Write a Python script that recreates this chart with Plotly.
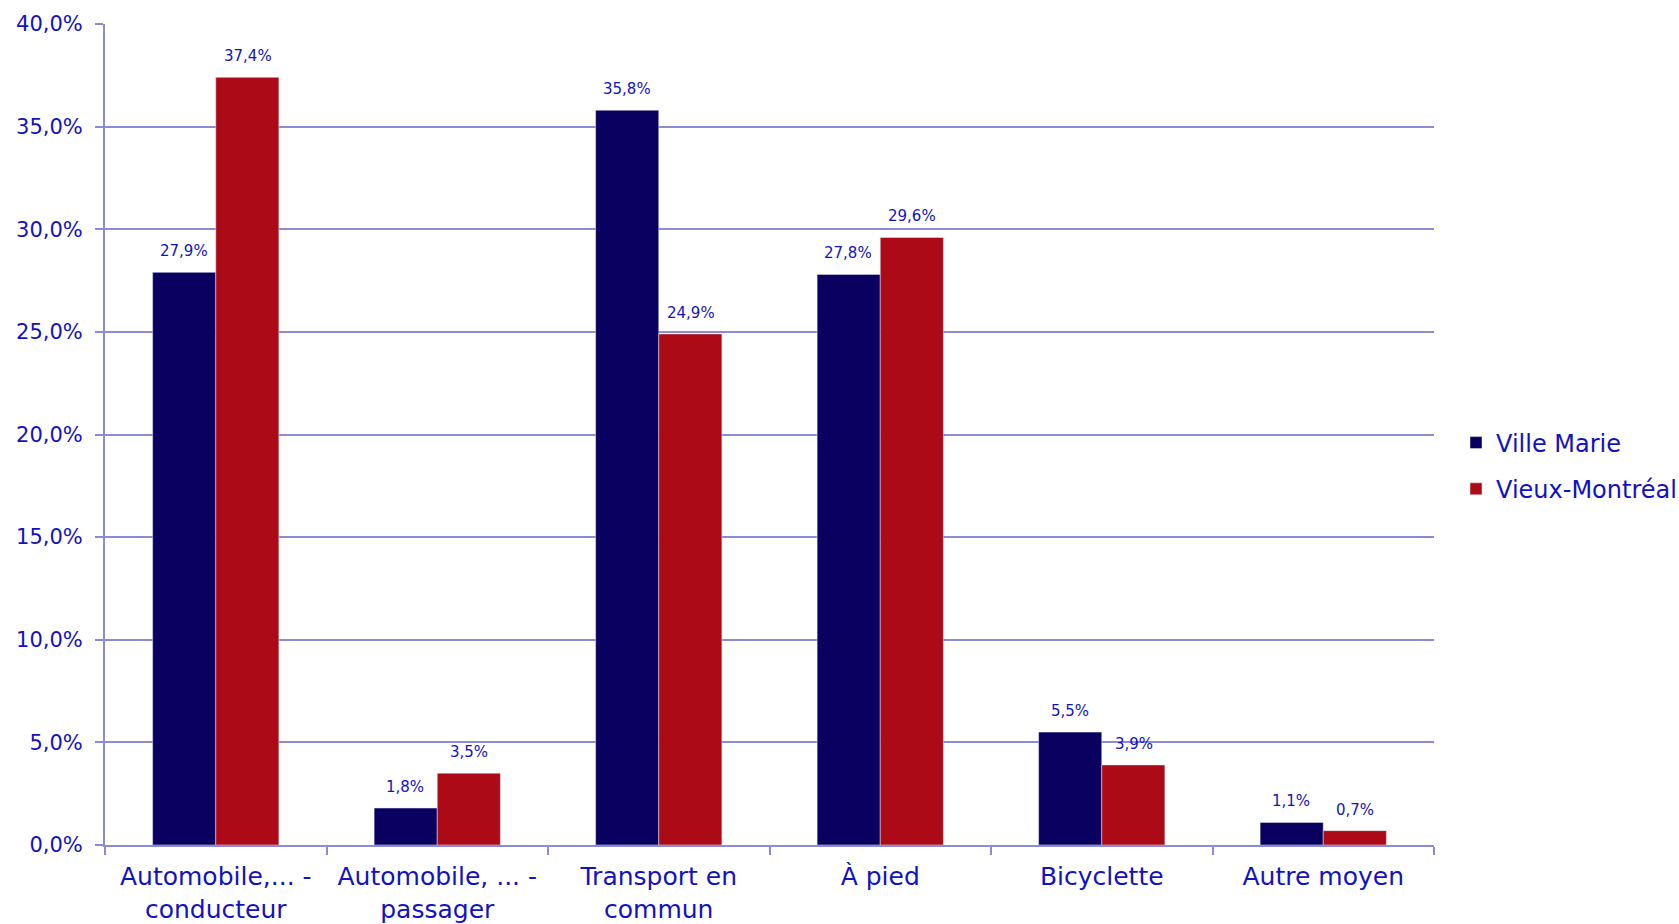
import plotly.graph_objects as go

categories = ["Automobile,... -<br>conducteur", "Automobile, ... -<br>passager",
              "Transport en<br>commun", "À pied", "Bicyclette", "Autre moyen"]
ville_marie = [27.9, 1.8, 35.8, 27.8, 5.5, 1.1]
vieux_montreal = [37.4, 3.5, 24.9, 29.6, 3.9, 0.7]
y_ticks = [0, 5, 10, 15, 20, 25, 30, 35, 40]

FONT = "DejaVu Sans, Tahoma, sans-serif"
TEXT = "#1212BE"
GRID = "#8C8CD4"
NAVY = "#0A0060"
RED = "#AD0A18"


def fmt(v):
    return f"{v:.1f}".replace(".", ",") + "%"


fig = go.Figure()
fig.add_trace(go.Bar(x=categories, y=ville_marie, name="Ville Marie",
                     marker_color=NAVY, legendgroup="a"))
fig.add_trace(go.Bar(x=categories, y=vieux_montreal, name="Vieux-Montréal",
                     marker_color=RED, legendgroup="b"))

for vals, shift in ((ville_marie, -32), (vieux_montreal, 32)):
    for c, v in zip(categories, vals):
        fig.add_annotation(x=c, y=v, text=fmt(v), showarrow=False,
                           xshift=shift, yanchor="bottom", yshift=10,
                           font=dict(family=FONT, size=15, color=TEXT))

W, H = 1679, 924
L, R, T, B = 105, 1434, 24, 79
fig.update_layout(
    width=W, height=H,
    margin=dict(l=L, r=W - R, t=T, b=B, autoexpand=False),
    plot_bgcolor="white", paper_bgcolor="white",
    barmode="group", bargap=0.43, bargroupgap=0,
    font=dict(family=FONT, color=TEXT),
    legend=dict(xref="container", yref="container",
                x=1456 / W, xanchor="left", y=(H - 466) / H, yanchor="middle",
                font=dict(family=FONT, size=24, color=TEXT),
                traceorder="grouped", tracegroupgap=12,
                itemwidth=30),
    showlegend=True,
)
fig.update_yaxes(range=[0, 40], tickvals=y_ticks, ticktext=[fmt(t) for t in y_ticks],
                 showgrid=True, gridcolor=GRID, gridwidth=2,
                 showline=True, linecolor=GRID, linewidth=2,
                 ticks="outside", ticklen=8, tickcolor=GRID, tickwidth=2,
                 ticklabelstandoff=8,
                 tickfont=dict(family=FONT, size=21, color=TEXT), zeroline=False)
fig.update_xaxes(showline=True, linecolor=GRID, linewidth=2,
                 ticks="outside", ticklen=8, tickcolor=GRID, tickwidth=2,
                 tickson="boundaries", ticklabelstandoff=8,
                 tickfont=dict(family=FONT, size=25, color=TEXT))

fig.write_html("out.html")
